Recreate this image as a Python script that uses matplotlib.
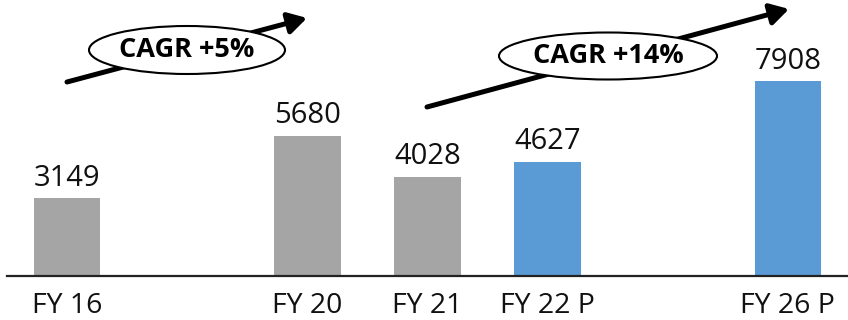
import matplotlib
matplotlib.use("Agg")
import matplotlib.pyplot as plt
from matplotlib.patches import Ellipse, FancyArrowPatch, ArrowStyle

# Fiscal-year slots (empty strings keep the gaps between FY16-FY20 and FY22-FY26)
categories = ["FY 16", "", "FY 20", "FY 21", "FY 22 P", "", "FY 26 P"]
values = [3149, None, 5680, 4028, 4627, None, 7908]
projected = [False, False, False, False, True, False, True]
cagr_labels = ["CAGR +5%", "CAGR +14%"]

GREY = "#A5A5A5"
BLUE = "#5B9BD5"
FONT = "Open Sans"

W, H = 848, 320
fig = plt.figure(figsize=(W / 100, H / 100), dpi=100)
ax = fig.add_axes([7 / W, 44 / H, (W - 7) / W, 276 / H])

xs = [i for i, v in enumerate(values) if v is not None]
vals = [values[i] for i in xs]
cols = [BLUE if projected[i] else GREY for i in xs]
bars = ax.bar(xs, vals, width=0.556, color=cols, zorder=2)

for x, v in zip(xs, vals):
    ax.annotate(f"{v}", (x, v), xytext=(0, 4), textcoords="offset points",
                ha="center", va="bottom", fontsize=21, family=FONT,
                color="#111111")

ax.set_xlim(-0.5, 6.5)
ax.set_ylim(0, 11200)
ax.set_xticks(range(len(categories)))
ax.set_xticklabels(categories, fontsize=20.5, family=FONT, color="#111111")
ax.tick_params(axis="x", length=0, pad=11.5)
ax.set_yticks([])
for side in ("top", "right", "left"):
    ax.spines[side].set_visible(False)
ax.spines["bottom"].set_linewidth(1.6)
ax.spines["bottom"].set_color("#222222")


def fx(px):
    return px / W


def fy(py):
    return 1 - py / H


arrow_style = ArrowStyle("-|>", head_length=0.55, head_width=0.32)
arrows = [((67, 82), (307, 18)), ((427, 107), (789, 9))]
for (x0, y0), (x1, y1) in arrows:
    fig.add_artist(FancyArrowPatch((fx(x0), fy(y0)), (fx(x1), fy(y1)),
                                   transform=fig.transFigure,
                                   arrowstyle=arrow_style, mutation_scale=20,
                                   lw=3.6, color="black", shrinkA=0, shrinkB=0,
                                   zorder=3))

ellipses = [((187, 50), 196, 48), ((608, 56), 218, 47)]
for ((cx, cy), ew, eh), label in zip(ellipses, cagr_labels):
    fig.add_artist(Ellipse((fx(cx), fy(cy)), ew / W, eh / H,
                           transform=fig.transFigure, facecolor="white",
                           edgecolor="black", lw=1.5, zorder=4))
    fig.text(fx(cx), fy(cy), label, ha="center", va="center",
             fontsize=19.5, fontweight="bold", family=FONT, color="black",
             zorder=5)

fig.savefig("out.png", dpi=100)
